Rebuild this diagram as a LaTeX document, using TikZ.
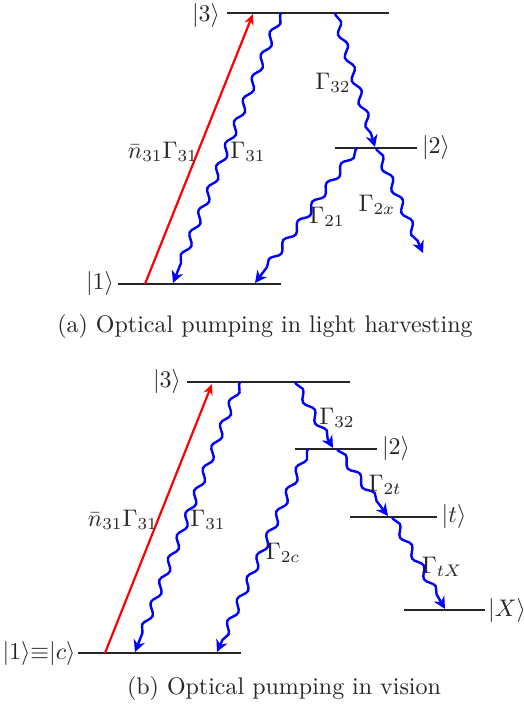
\documentclass[tikz,border=0pt]{standalone}
\usetikzlibrary{decorations.pathmorphing,arrows.meta}
\tikzset{
  lev/.style={line width=1.15pt, black!85},
  wavy/.style={blue, line width=1pt, decorate,
    decoration={snake, segment length=10pt, amplitude=1.4pt, pre length=1pt, post length=4.5pt},
    -{Stealth[length=5pt,width=5pt]}},
  pump/.style={red, line width=0.9pt, -{Stealth[length=4.5pt,width=4pt]}},
  lbl/.style={inner sep=0pt, text=black!85},
}
\begin{document}
\begin{tikzpicture}[x=0.417pt,y=-0.417pt]
\useasboundingbox (0,0) rectangle (523,707);
% ---------- (a) ----------
\coordinate (a3l) at (227,13);  \coordinate (a3r) at (389,13);
\coordinate (a2l) at (335,148); \coordinate (a2r) at (417,148);
\coordinate (a1l) at (118,284); \coordinate (a1r) at (281,284);
\draw[lev] (a3l) -- (a3r);
\draw[lev] (a2l) -- (a2r);
\draw[lev] (a1l) -- (a1r);
\node[lbl] (ta3) at (206,16) {$|3\rangle$};
\node[lbl] (ta2) at (436,148) {$|2\rangle$};
\node[lbl] (ta1) at (100,284) {$|1\rangle$};
\coordinate (ap0) at (145,284); \coordinate (ap1) at (253,14);
\draw[pump] (ap0) -- (ap1);
\coordinate (a31s) at (281,13); \coordinate (a31e) at (173,283);
\draw[wavy] (a31s) -- (a31e);
\coordinate (a32s) at (335,13); \coordinate (a32e) at (375,147);
\draw[wavy] (a32s) -- (a32e);
\coordinate (a21s) at (357,148); \coordinate (a21e) at (255,283);
\draw[wavy] (a21s) -- (a21e);
\coordinate (a2xs) at (376,148); \coordinate (a2xe) at (423,253);
\draw[wavy] (a2xs) -- (a2xe);
\node[lbl] (la1) at (163,152) {$\bar{n}_{31}\Gamma_{31}$};
\node[lbl] (la2) at (248,152) {$\Gamma_{31}$};
\node[lbl] (la3) at (333,83) {$\Gamma_{32}$};
\node[lbl] (la4) at (327,217) {$\Gamma_{21}$};
\node[lbl] (la5) at (377,205) {$\Gamma_{2x}$};
\node[lbl] (capa) at (265,327) {(a) Optical pumping in light harvesting};
% ---------- (b) ----------
\coordinate (b3l) at (187,382); \coordinate (b3r) at (350,382);
\coordinate (b2l) at (295,449); \coordinate (b2r) at (377,449);
\coordinate (btl) at (350,517); \coordinate (btr) at (437,517);
\coordinate (bxl) at (404,610); \coordinate (bxr) at (485,610);
\coordinate (b1l) at (78,653);  \coordinate (b1r) at (241,653);
\draw[lev] (b3l) -- (b3r);
\draw[lev] (b2l) -- (b2r);
\draw[lev] (btl) -- (btr);
\draw[lev] (bxl) -- (bxr);
\draw[lev] (b1l) -- (b1r);
\node[lbl] (tb3) at (167,382) {$|3\rangle$};
\node[lbl] (tb2) at (396,449) {$|2\rangle$};
\node[lbl] (tbt) at (454,517) {$|t\rangle$};
\node[lbl] (tbx) at (507,610) {$|X\rangle$};
\node[lbl] (tb1) at (39,653) {$|1\rangle{\equiv}|c\rangle$};
\coordinate (bp0) at (105,653); \coordinate (bp1) at (212,384);
\draw[pump] (bp0) -- (bp1);
\coordinate (b31s) at (240,382); \coordinate (b31e) at (135,652);
\draw[wavy] (b31s) -- (b31e);
\coordinate (b32s) at (295,382); \coordinate (b32e) at (333,448);
\draw[wavy] (b32s) -- (b32e);
\coordinate (b2cs) at (308,449); \coordinate (b2ce) at (217,652);
\draw[wavy] (b2cs) -- (b2ce);
\coordinate (b2ts) at (337,449); \coordinate (b2te) at (388,516);
\draw[wavy] (b2ts) -- (b2te);
\coordinate (btxs) at (392,517); \coordinate (btxe) at (445,609);
\draw[wavy] (btxs) -- (btxe);
\node[lbl] (lb1) at (123,520) {$\bar{n}_{31}\Gamma_{31}$};
\node[lbl] (lb2) at (208,520) {$\Gamma_{31}$};
\node[lbl] (lb3) at (337,418) {$\Gamma_{32}$};
\node[lbl] (lb4) at (283,553) {$\Gamma_{2c}$};
\node[lbl] (lb5) at (385,485) {$\Gamma_{2t}$};
\node[lbl] (lb6) at (442,567) {$\Gamma_{tX}$};
\node[lbl] (capb) at (284,688) {(b) Optical pumping in vision};
\end{tikzpicture}
\end{document}
